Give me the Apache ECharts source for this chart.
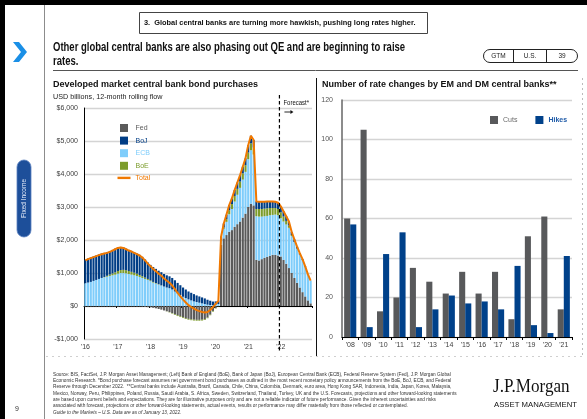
<!DOCTYPE html>
<html>
<head>
<meta charset="utf-8">
<script src="https://cdn.jsdelivr.net/npm/echarts/dist/echarts.min.js"></script>
<style>
html,body{margin:0;padding:0;background:#ffffff;}
#chart{width:587px;height:419px;}
</style>
</head>
<body>
<div id="chart"></div>
<script>
// ---------- Left panel: monthly 12-month rolling bond purchases, Jan 2016 - Dec 2022 (USD bn) ----------
const yearLabels = ["'16", "'17", "'18", "'19", "'20", "'21", "'22"];
const monthCats = [];
for (let y = 2016; y <= 2022; y++) {
  for (let m = 1; m <= 12; m++) monthCats.push(y + '-' + (m < 10 ? '0' + m : m));
}

const fed = [
  -20, -20, -20, -20, -20, -20, -20, -20, -20, -20, -20, -20,
  -20, -20, -20, -20, -20, -20, -20, -20, -20, -25, -30, -35,
  -40, -55, -70, -90, -110, -135, -160, -185, -215, -250, -280, -310,
  -340, -370, -390, -405, -415, -420, -420, -415, -400, -350, -260, -150,
  -60, 0, 1850, 2050, 2150, 2250, 2300, 2400, 2480, 2560, 2680, 2800,
  3000, 3100, 3050, 1400, 1380, 1420, 1460, 1490, 1520, 1550, 1550, 1530,
  1500, 1400, 1280, 1150, 1000, 850, 700, 560, 420, 290, 170, 80
];
const ecb = [
  690, 710, 730, 760, 790, 820, 850, 870, 890, 910, 930, 950,
  980, 1000, 1000, 990, 970, 950, 930, 910, 880, 850, 820, 790,
  750, 710, 680, 650, 620, 590, 560, 540, 500, 440, 380, 330,
  280, 240, 200, 170, 140, 120, 100, 80, 60, 40, 30, 25,
  40, 60, 140, 290, 400, 530, 640, 765, 890, 1020, 1150, 1265,
  1450, 1620, 1540, 1320, 1330, 1290, 1260, 1240, 1230, 1210, 1220, 1220,
  1160, 1160, 1190, 1220, 1120, 1090, 1040, 1000, 970, 890, 780, 690
];
const boe = [
  0, 0, 0, 0, 0, 0, 0, 10, 25, 40, 55, 70,
  80, 90, 95, 95, 90, 85, 80, 70, 60, 50, 40, 30,
  25, 20, 15, 10, 5, 0, -5, -10, -15, -20, -25, -25,
  -25, -25, -25, -25, -25, -25, -25, -25, -25, -20, -20, -20,
  -15, -10, 10, 40, 80, 120, 150, 170, 180, 190, 190, 200,
  200, 210, 210, 220, 230, 230, 230, 230, 220, 210, 200, 190,
  180, 150, 110, 70, 30, 0, 0, 0, 0, 0, 0, 0
];
const boj = [
  710, 730, 740, 740, 740, 740, 740, 730, 715, 710, 715, 720,
  720, 700, 685, 655, 640, 635, 620, 610, 610, 590, 550, 500,
  470, 450, 430, 410, 400, 380, 370, 360, 350, 340, 320, 300,
  280, 260, 240, 230, 220, 200, 190, 180, 170, 150, 130, 110,
  100, 100, 100, 120, 140, 160, 170, 180, 190, 200, 200, 210,
  220, 230, 230, 230, 220, 220, 210, 210, 200, 200, 190, 190,
  180, 160, 140, 120, 100, 80, 60, 40, 30, 20, 10, 0
];
const total = [
  1380, 1420, 1450, 1480, 1510, 1540, 1570, 1590, 1610, 1640, 1680, 1720,
  1760, 1770, 1760, 1720, 1680, 1650, 1610, 1570, 1530, 1465, 1380, 1285,
  1205, 1125, 1055, 980, 915, 835, 765, 705, 620, 510, 395, 295,
  195, 105, 25, -30, -80, -125, -155, -180, -195, -180, -120, -35,
  65, 150, 2100, 2500, 2770, 3060, 3260, 3515, 3740, 3970, 4220, 4475,
  4870, 5160, 5030, 3170, 3160, 3160, 3160, 3170, 3170, 3170, 3160, 3130,
  3020, 2870, 2720, 2560, 2250, 2020, 1800, 1600, 1420, 1200, 960, 770
];
const forecastStartIndex = 72; // Jan 2022

// ---------- Right panel: yearly count of policy rate changes ----------
const rateYears = ["'08", "'09", "'10", "'11", "'12", "'13", "'14", "'15", "'16", "'17", "'18", "'19", "'20", "'21"];
const cuts  = [60, 105, 13, 20, 35, 28, 22, 33, 22, 33, 9, 51, 61, 14];
const hikes = [57, 5, 42, 53, 5, 14, 21, 17, 18, 14, 36, 6, 2, 41];

const C = {
  fed: '#5a5a5a', boj: '#003d85', ecb: '#7fcdfb', boe: '#7c9c2c', total: '#f07800',
  cuts: '#58595b', hikes: '#00418a', grid: '#d4d4d4', text: '#404040'
};
const FONT = 'Liberation Sans, Arial, sans-serif';
const SQUARE = 'path://M0,0H8V8H0Z';
const DASH = 'path://M0,0H13V2.4H0Z';

const chart = echarts.init(document.getElementById('chart'), null, { renderer: 'canvas' });

function usd(v) {
  const a = Math.abs(v).toLocaleString('en-US');
  return (v < 0 ? '-$' : '$') + a;
}

const option = {
  animation: false,
  textStyle: { fontFamily: FONT },
  grid: [
    { left: 84, right: 275, top: 108, bottom: 80, outerBoundsMode: 'none', containLabel: false },
    { left: 342, right: 15, top: 100, bottom: 82, outerBoundsMode: 'none', containLabel: false }
  ],
  legend: [
    {
      orient: 'vertical', left: 112.5, top: 119, itemWidth: 13, itemHeight: 8, itemGap: 4.6,
      textStyle: { fontSize: 7, fontFamily: FONT },
      data: [
        { name: 'Fed', icon: SQUARE, textStyle: { color: C.fed } },
        { name: 'BoJ', icon: SQUARE, textStyle: { color: C.boj } },
        { name: 'ECB', icon: SQUARE, textStyle: { color: C.ecb } },
        { name: 'BoE', icon: SQUARE, textStyle: { color: C.boe } },
        { name: 'Total', icon: DASH, textStyle: { color: C.total } }
      ]
    },
    {
      orient: 'horizontal', left: 485, top: 111, itemWidth: 8, itemHeight: 8, itemGap: 18,
      textStyle: { fontSize: 7, fontFamily: FONT },
      data: [
        { name: 'Cuts', icon: 'rect', textStyle: { color: '#6a6a6a' } },
        { name: 'Hikes', icon: 'rect', textStyle: { color: '#1f5ba8', fontWeight: 'bold' } }
      ]
    }
  ],
  xAxis: [
    { // zero line with yearly ticks
      type: 'category', gridIndex: 0, data: monthCats, boundaryGap: true,
      axisLine: { onZero: true, lineStyle: { color: '#000', width: 1 } },
      axisTick: { show: true, interval: 11, length: 2, lineStyle: { color: '#000' } },
      axisLabel: { show: false }, splitLine: { show: false }
    },
    { // year labels along the bottom
      type: 'category', gridIndex: 0, data: monthCats, boundaryGap: true, position: 'bottom',
      axisLine: { show: false, onZero: false }, axisTick: { show: false },
      axisLabel: {
        interval: 11, margin: 5, fontSize: 7, color: C.text, fontFamily: FONT,
        formatter: function (v) { return yearLabels[parseInt(v.slice(0, 4), 10) - 2016]; }
      }
    },
    { // month-index scale used to place the forecast divider
      type: 'value', gridIndex: 0, min: 0, max: 84, show: false
    },
    {
      type: 'category', gridIndex: 1, data: rateYears, boundaryGap: true,
      axisLine: { lineStyle: { color: '#000', width: 1 } },
      axisTick: { show: true, length: 3, lineStyle: { color: '#000' } },
      axisLabel: { margin: 5, fontSize: 7, color: C.text, fontFamily: FONT, interval: 0 }
    }
  ],
  yAxis: [
    {
      type: 'value', gridIndex: 0, min: -1000, max: 6000, interval: 1000,
      axisLine: { show: true, lineStyle: { color: '#000', width: 1 } },
      axisTick: { show: false },
      axisLabel: { fontSize: 7, color: C.text, margin: 6, formatter: usd, fontFamily: FONT },
      splitLine: { lineStyle: { color: C.grid, width: 1.3 } }
    },
    {
      type: 'value', gridIndex: 1, min: 0, max: 120, interval: 20,
      axisLine: { show: true, lineStyle: { color: '#666', width: 1.5 } },
      axisTick: { show: false },
      axisLabel: { fontSize: 7, color: '#555', margin: 9, fontFamily: FONT },
      splitLine: { lineStyle: { color: C.grid, width: 1.3 } }
    }
  ],
  series: [
    { name: 'Fed', type: 'bar', stack: 'cb', xAxisIndex: 0, yAxisIndex: 0, data: fed,
      itemStyle: { color: C.fed }, barCategoryGap: '22%' },
    { name: 'ECB', type: 'bar', stack: 'cb', xAxisIndex: 0, yAxisIndex: 0, data: ecb,
      itemStyle: { color: C.ecb } },
    { name: 'BoE', type: 'bar', stack: 'cb', xAxisIndex: 0, yAxisIndex: 0, data: boe,
      itemStyle: { color: C.boe } },
    { name: 'BoJ', type: 'bar', stack: 'cb', xAxisIndex: 0, yAxisIndex: 0, data: boj,
      itemStyle: { color: C.boj } },
    { name: 'Total', type: 'line', xAxisIndex: 0, yAxisIndex: 0, data: total, z: 5,
      symbol: 'none', lineStyle: { color: C.total, width: 2 }, itemStyle: { color: C.total } },
    { name: 'Cuts', type: 'bar', xAxisIndex: 3, yAxisIndex: 1, data: cuts,
      itemStyle: { color: C.cuts }, barGap: '0%', barCategoryGap: '26%' },
    { name: 'Hikes', type: 'bar', xAxisIndex: 3, yAxisIndex: 1, data: hikes,
      itemStyle: { color: C.hikes } }
  ]
};
chart.setOption(option);

// ---------- page furniture and text ----------
function txt(x, y, s, font, color, opts) {
  opts = opts || {};
  return {
    type: 'text', x: x, y: y, scaleX: opts.sx || 1, z: 100, silent: true,
    style: {
      text: s, font: font, fill: color || '#000',
      textAlign: opts.align || 'left', textVerticalAlign: opts.va || 'middle'
    }
  };
}

const footLines = [
  'Source: BIS, FactSet, J.P. Morgan Asset Management; (Left) Bank of England (BoE), Bank of Japan (BoJ), European Central Bank (ECB), Federal Reserve System (Fed), J.P. Morgan Global',
  'Economic Research. *Bond purchase forecast assumes net government bond purchases as outlined in the most recent monetary policy announcements from the BoE, BoJ, ECB, and Federal',
  'Reserve through December 2022.  **Central banks include Australia, Brazil, Canada, Chile, China, Colombia, Denmark, euro area, Hong Kong SAR, Indonesia, India, Japan, Korea, Malaysia,',
  'Mexico, Norway, Peru, Philippines, Poland, Russia, Saudi Arabia, S. Africa, Sweden, Switzerland, Thailand, Turkey, UK and the U.S. Forecasts, projections and other forward-looking statements',
  'are based upon current beliefs and expectations. They are for illustrative purposes only and are not a reliable indicator of future performance. Given the inherent uncertainties and risks',
  'associated with forecast, projections or other forward-looking statements, actual events, results or performance may differ materially from those reflected or contemplated.'
];

const fx = chart.convertToPixel({ xAxisIndex: 2 }, forecastStartIndex);
const fyTop = chart.convertToPixel({ yAxisIndex: 0 }, 6000);

const g = [
  // outer frame
  { type: 'rect', shape: { x: 0, y: 0, width: 587, height: 5 }, style: { fill: '#000' }, silent: true },
  { type: 'rect', shape: { x: 0, y: 0, width: 5, height: 419 }, style: { fill: '#000' }, silent: true },
  { type: 'line', shape: { x1: 44.5, y1: 5, x2: 44.5, y2: 419 }, style: { stroke: '#8c8c8c', lineWidth: 1 }, silent: true },
  // chevron
  { type: 'polygon', shape: { points: [[13, 42], [19, 42], [27, 52], [19, 62], [13, 62], [21, 52]] },
    style: { fill: '#1a8fe6' }, silent: true },
  // side tab
  { type: 'rect', shape: { x: 17, y: 160, width: 14, height: 77, r: 7 },
    style: { fill: '#1d4f9a', stroke: '#5c82c0', lineWidth: 0.8 }, silent: true },
  { type: 'text', x: 24, y: 198.5, rotation: Math.PI / 2, z: 100, silent: true,
    style: { text: 'Fixed Income', font: '6.5px ' + FONT, fill: '#e8eefa', textAlign: 'center', textVerticalAlign: 'middle' } },
  txt(17, 409, '9', '7px ' + FONT, '#333', { align: 'center' }),
  // section banner
  { type: 'rect', shape: { x: 139.5, y: 12.5, width: 288, height: 21 }, style: { fill: '#fff', stroke: '#444', lineWidth: 1 }, silent: true },
  txt(144, 23, '3.  Global central banks are turning more hawkish, pushing long rates higher.', 'bold 7.4px ' + FONT, '#111', { sx: 1.0 }),
  // headline
  txt(53, 47.5, 'Other global central banks are also phasing out QE and are beginning to raise', 'bold 12.5px ' + FONT, '#111', { sx: 0.76 }),
  txt(53, 62, 'rates.', 'bold 12.5px ' + FONT, '#111', { sx: 0.76 }),
  { type: 'line', shape: { x1: 53, y1: 70.5, x2: 578, y2: 70.5 }, style: { stroke: '#555', lineWidth: 1 }, silent: true },
  // GTM badge
  { type: 'rect', shape: { x: 483.5, y: 49.5, width: 94, height: 13, r: 6.5 }, style: { fill: '#fff', stroke: '#222', lineWidth: 1 }, silent: true },
  { type: 'line', shape: { x1: 513.5, y1: 49.5, x2: 513.5, y2: 62.5 }, style: { stroke: '#222', lineWidth: 1 }, silent: true },
  { type: 'line', shape: { x1: 546.5, y1: 49.5, x2: 546.5, y2: 62.5 }, style: { stroke: '#222', lineWidth: 1 }, silent: true },
  txt(498.5, 56, 'GTM', '6.5px ' + FONT, '#222', { align: 'center' }),
  txt(530, 56, 'U.S.', '6.5px ' + FONT, '#222', { align: 'center' }),
  txt(562, 56, '39', '6.5px ' + FONT, '#222', { align: 'center' }),
  // panel titles
  txt(53, 85, 'Developed market central bank bond purchases', 'bold 9px ' + FONT, '#111', { sx: 1.0 }),
  txt(53, 97, 'USD billions, 12-month rolling flow', '7.2px ' + FONT, '#222', { sx: 1.0 }),
  txt(322, 85, 'Number of rate changes by EM and DM central banks**', 'bold 9px ' + FONT, '#111', { sx: 1.0 }),
  // panel dividers
  { type: 'line', shape: { x1: 316.5, y1: 78, x2: 316.5, y2: 357 }, style: { stroke: '#111', lineWidth: 1 }, silent: true },
  { type: 'line', shape: { x1: 582.5, y1: 78, x2: 582.5, y2: 357 }, style: { stroke: '#bbb', lineWidth: 1, lineDash: [2, 3] }, silent: true },
  { type: 'line', shape: { x1: 46, y1: 356.5, x2: 582, y2: 356.5 }, style: { stroke: '#cfcfcf', lineWidth: 1, lineDash: [2, 4] }, silent: true },
  // forecast divider
  { type: 'line', shape: { x1: fx, y1: fyTop - 13, x2: fx, y2: 352 }, z: 50,
    style: { stroke: '#000', lineWidth: 1.2, lineDash: [3.5, 2.5] }, silent: true },
  txt(fx + 4, 103, 'Forecast*', '6.5px ' + FONT, '#111', { sx: 0.92 }),
  { type: 'line', shape: { x1: fx + 5, y1: 112, x2: fx + 12, y2: 112 }, style: { stroke: '#111', lineWidth: 0.9 }, silent: true },
  { type: 'polygon', shape: { points: [[fx + 11, 110], [fx + 14, 112], [fx + 11, 114]] }, style: { fill: '#111' }, silent: true },
  // logo
  txt(493, 387, 'J.P.Morgan', '18px Liberation Serif, DejaVu Serif, serif', '#111', { sx: 0.95 }),
  txt(494, 405, 'ASSET MANAGEMENT', '7.6px ' + FONT, '#111', { sx: 1.02 })
];
footLines.forEach(function (s, i) {
  g.push(txt(53, 374.5 + i * 6.3, s, '5px ' + FONT, '#333', { sx: 0.945 }));
});
g.push(txt(53, 374.5 + 6 * 6.3, 'Guide to the Markets \u2013 U.S. Data are as of January 13, 2022.', 'italic 5px ' + FONT, '#333', { sx: 0.945 }));

chart.setOption({ graphic: g });
</script>
</body>
</html>
